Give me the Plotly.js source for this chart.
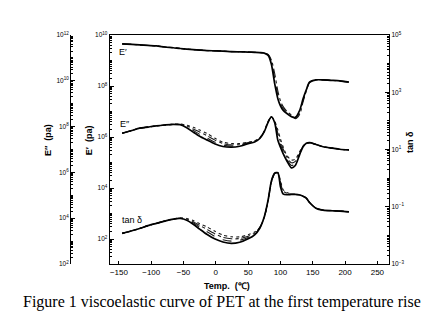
<!DOCTYPE html>
<html><head><meta charset="utf-8">
<script src="https://cdn.plot.ly/plotly-3.0.1.min.js"></script>
<style>html,body{margin:0;padding:0;background:#fff}#chart{width:444px;height:326px}</style>
</head><body><div id="chart"></div>
<script>
// Temperature (°C)
const temperature = [-145,-130,-118,-105,-92,-79,-66,-55,-45,-35,-25,-14,-2,11,24,37,50,60,68,75,81,86,91,96,100,104,110,117,123,130,135,140,145,155,166,180,192,206];

// log10 of E' (Pa), three frequencies
const ePrimeLogA = [9.65,9.63,9.61,9.59,9.57,9.53,9.50,9.47,9.45,9.43,9.41,9.39,9.38,9.37,9.35,9.34,9.33,9.32,9.31,9.29,9.20,8.85,8.10,7.50,7.22,7.05,6.92,6.80,6.77,7.06,7.50,7.85,8.15,8.24,8.24,8.22,8.20,8.15];
const ePrimeLogB = [9.65,9.63,9.61,9.59,9.57,9.53,9.50,9.47,9.45,9.43,9.41,9.39,9.38,9.37,9.35,9.34,9.33,9.32,9.31,9.29,9.22,8.95,8.30,7.65,7.32,7.12,6.96,6.83,6.74,6.98,7.44,7.83,8.14,8.24,8.24,8.22,8.20,8.15];
const ePrimeLogC = [9.65,9.63,9.61,9.59,9.57,9.53,9.50,9.47,9.45,9.43,9.41,9.39,9.38,9.37,9.35,9.34,9.33,9.32,9.31,9.29,9.24,9.02,8.50,7.80,7.42,7.20,7.00,6.86,6.72,6.90,7.38,7.80,8.13,8.24,8.24,8.22,8.20,8.15];

// log10 of E'' (Pa), four frequencies
const eLossLogA = [7.71,7.83,7.93,7.98,8.03,8.07,8.10,8.08,7.95,7.76,7.58,7.42,7.25,7.13,7.10,7.14,7.25,7.33,7.48,7.78,8.20,8.43,8.18,7.40,7.10,6.83,6.50,6.20,6.30,6.80,7.12,7.27,7.30,7.22,7.12,7.06,7.01,6.98];
const eLossLogB = [7.71,7.83,7.93,7.98,8.03,8.07,8.10,8.09,7.99,7.83,7.66,7.51,7.33,7.19,7.15,7.18,7.27,7.35,7.49,7.79,8.21,8.43,8.20,7.55,7.22,6.93,6.58,6.30,6.38,6.84,7.13,7.27,7.30,7.22,7.12,7.06,7.01,6.98];
const eLossLogC = [7.71,7.83,7.93,7.98,8.03,8.07,8.10,8.10,8.03,7.90,7.76,7.61,7.42,7.26,7.20,7.22,7.30,7.37,7.50,7.80,8.22,8.42,8.22,7.70,7.34,7.03,6.66,6.42,6.48,6.88,7.14,7.27,7.30,7.22,7.12,7.06,7.01,6.98];
const eLossLogD = [7.71,7.83,7.93,7.98,8.03,8.07,8.10,8.11,8.06,7.97,7.85,7.71,7.50,7.32,7.26,7.26,7.32,7.38,7.51,7.81,8.23,8.41,8.24,7.85,7.46,7.13,6.74,6.54,6.58,6.92,7.15,7.27,7.30,7.22,7.12,7.06,7.01,6.98];

// log10 of tan delta, four frequencies
const tanLogA = [-1.93,-1.84,-1.76,-1.66,-1.58,-1.50,-1.43,-1.41,-1.47,-1.61,-1.78,-1.96,-2.12,-2.23,-2.28,-2.24,-2.12,-1.98,-1.75,-1.35,-0.75,-0.10,0.17,0.19,-0.30,-0.55,-0.58,-0.57,-0.57,-0.59,-0.63,-0.70,-0.85,-1.05,-1.12,-1.14,-1.15,-1.18];
const tanLogB = [-1.93,-1.84,-1.76,-1.66,-1.58,-1.50,-1.43,-1.40,-1.45,-1.56,-1.71,-1.87,-2.03,-2.15,-2.20,-2.17,-2.07,-1.95,-1.74,-1.35,-0.76,-0.11,0.17,0.19,-0.22,-0.50,-0.56,-0.57,-0.57,-0.59,-0.63,-0.70,-0.85,-1.05,-1.12,-1.14,-1.15,-1.18];
const tanLogC = [-1.93,-1.84,-1.76,-1.66,-1.58,-1.50,-1.43,-1.40,-1.43,-1.52,-1.65,-1.79,-1.94,-2.07,-2.12,-2.11,-2.03,-1.92,-1.73,-1.36,-0.78,-0.13,0.16,0.19,-0.15,-0.45,-0.53,-0.56,-0.57,-0.59,-0.63,-0.70,-0.85,-1.05,-1.12,-1.14,-1.15,-1.18];
const tanLogD = [-1.93,-1.84,-1.76,-1.66,-1.58,-1.50,-1.43,-1.39,-1.41,-1.48,-1.59,-1.70,-1.85,-1.99,-2.05,-2.05,-1.98,-1.88,-1.72,-1.37,-0.80,-0.15,0.15,0.19,-0.07,-0.40,-0.50,-0.56,-0.57,-0.59,-0.63,-0.70,-0.85,-1.05,-1.12,-1.14,-1.15,-1.18];

// Tick labels
const xTickVals = [-150,-100,-50,0,50,100,150,200,250];
const xTickText = ['\u2212150','\u2212100','\u221250','0','50','100','150','200','250'];
const ePrimeExps = [2,4,6,8,10];
const eLossExps = [2,4,6,8,10,12];
const tanExps = [-3,-1,1,3,5];

const pow = a => a.map(v => Math.pow(10, v));
const expLabel = e => '10<sup>' + (e < 0 ? '\u2212' + (-e) : e) + '</sup>';

const styles = [
  {color:'#000', width:1.7, dash:'solid'},
  {color:'#1a1a1a', width:1.1, dash:'dash'},
  {color:'#1a1a1a', width:1.1, dash:'dashdot'},
  {color:'#1a1a1a', width:1.1, dash:'dot'}
];
const traces = [];
function add(arr, i, yaxis) {
  traces.push({x: temperature, y: pow(arr), xaxis:'x', yaxis: yaxis, type:'scatter', mode:'lines',
    line: Object.assign({shape:'spline', smoothing:0.7}, styles[i]), hoverinfo:'skip'});
}
add(ePrimeLogC, 2, 'y'); add(ePrimeLogB, 1, 'y'); add(ePrimeLogA, 0, 'y');
add(eLossLogD, 3, 'y2'); add(eLossLogC, 2, 'y2'); add(eLossLogB, 1, 'y2'); add(eLossLogA, 0, 'y2');
add(tanLogD, 3, 'y3'); add(tanLogC, 2, 'y3'); add(tanLogB, 1, 'y3'); add(tanLogA, 0, 'y3');

const sans = 'Liberation Sans, Arial, sans-serif';
const tickFont = {family:sans, size:6.5, color:'#000'};
const minor = {ticks:'inside', ticklen:2, tickcolor:'#000', dtick:'D1', showgrid:false};
const yCommon = {type:'log', showgrid:false, zeroline:false, showline:true, linecolor:'#000', linewidth:1.2,
  ticks:'inside', ticklen:4, tickcolor:'#000', tickfont: tickFont, tickmode:'array', minor: minor};

function note(x, y, text, size, extra) {
  return Object.assign({xref:'paper', yref:'paper', x:x, y:y, text:text, showarrow:false,
    xanchor:'center', yanchor:'middle', font:{family:sans, size:size, color:'#000'}}, extra || {});
}

const layout = {
  width:444, height:326,
  margin:{l:70, r:55, t:35, b:62},
  paper_bgcolor:'#fff', plot_bgcolor:'#fff',
  showlegend:false,
  xaxis:{domain:[0.125,1], range:[-164,268], anchor:'y', tickmode:'array', tickvals:xTickVals, ticktext:xTickText,
    ticks:'inside', ticklen:3, tickcolor:'#000', showline:true, mirror:true, linecolor:'#000', linewidth:1.2,
    showgrid:false, zeroline:false, tickfont:{family:sans, size:8, color:'#000'}},
  yaxis: Object.assign({}, yCommon, {range:[1.02,10], anchor:'x', side:'left',
    tickvals: pow(ePrimeExps), ticktext: ePrimeExps.map(expLabel)}),
  yaxis2: Object.assign({}, yCommon, {range:[2,12], overlaying:'y', anchor:'free', position:0, side:'left',
    tickvals: pow(eLossExps), ticktext: eLossExps.map(expLabel)}),
  yaxis3: Object.assign({}, yCommon, {range:[-3,5], overlaying:'y', anchor:'x', side:'right',
    tickvals: pow(tanExps), ticktext: tanExps.map(expLabel)}),
  annotations:[
    note(0.492, -0.096, '<b>Temp.  (\u2103)</b>', 9),
    note(0.476, -0.166, 'Figure 1 viscoelastic curve of PET at the first temperature rise', 16,
      {font:{family:'Liberation Serif, Times New Roman, serif', size:16, color:'#000'}}),
    note(-0.069, 0.541, '<b>E\u2033  (pa)</b>', 9, {textangle:-90}),
    note(0.060, 0.541, '<b>E\u2032  (pa)</b>', 9, {textangle:-90}),
    note(1.066, 0.533, '<b>tan \u03b4</b>', 9, {textangle:-90}),
    note(0.166, 0.926, 'E\u2032', 9),
    note(0.172, 0.611, 'E\u2033', 9),
    note(0.194, 0.192, 'tan \u03b4', 9)
  ]
};
Plotly.newPlot('chart', traces, layout, {displayModeBar:false, staticPlot:true});
</script></body></html>
